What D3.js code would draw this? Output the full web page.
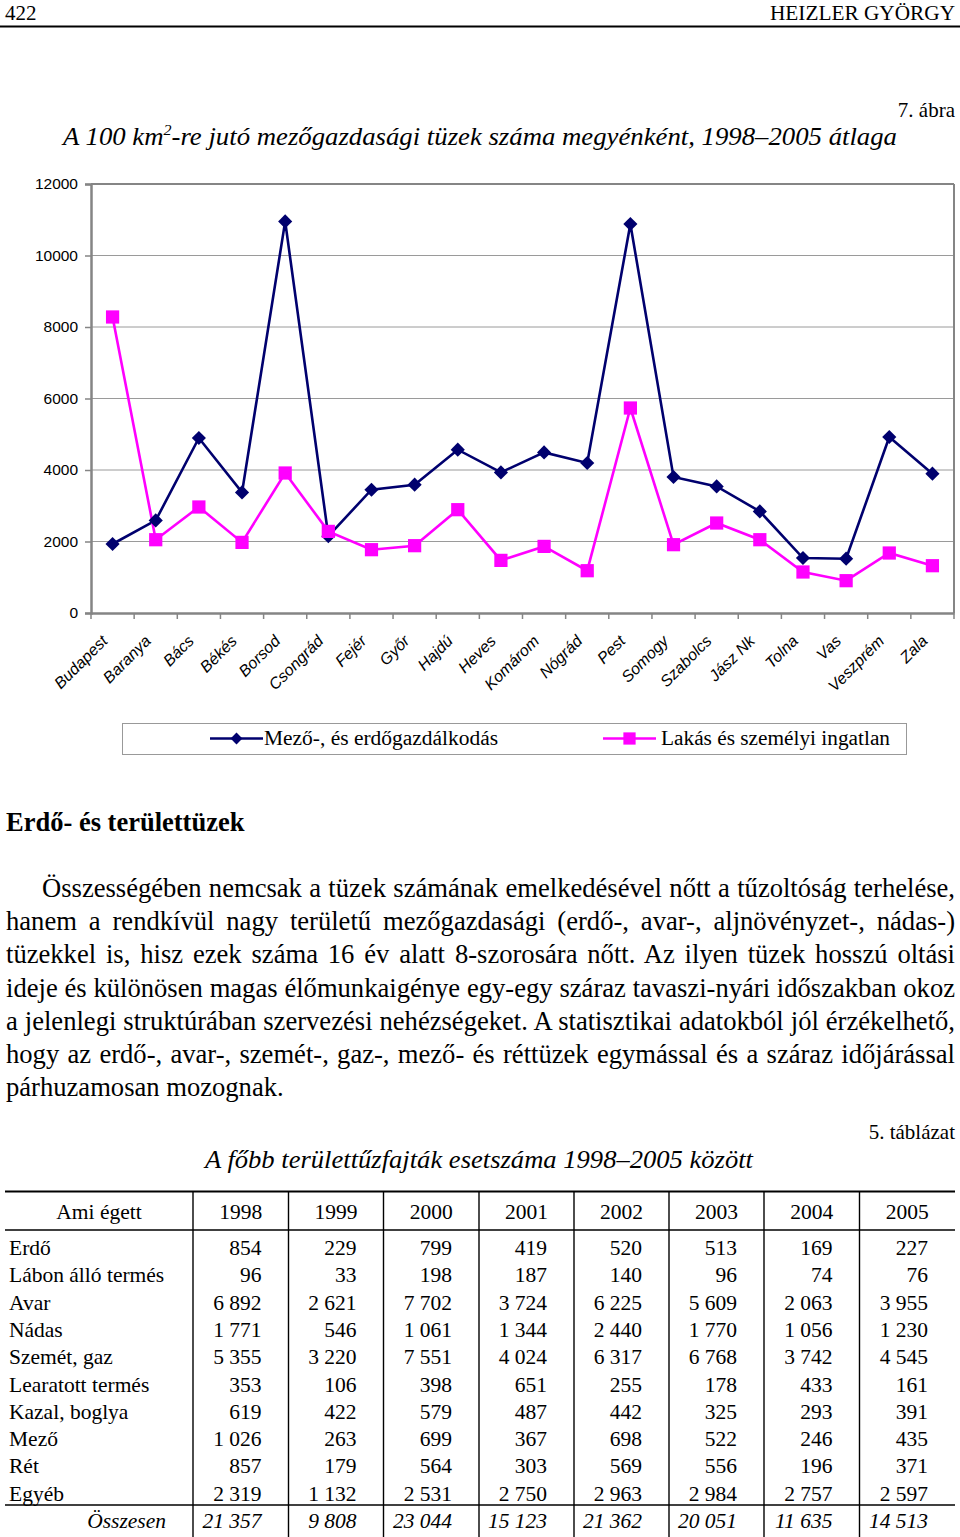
<!DOCTYPE html>
<html><head><meta charset="utf-8">
<script src="https://cdn.jsdelivr.net/npm/d3@7"></script>
<style>body{margin:0;background:#fff} svg{display:block}</style>
</head><body>
<svg id="page" width="960" height="1537"></svg>
<script>
// ---------- chart data ----------
const categories = ["Budapest","Baranya","Bács","Békés","Borsod","Csongrád","Fejér","Győr","Hajdú","Heves","Komárom","Nógrád","Pest","Somogy","Szabolcs","Jász Nk","Tolna","Vas","Veszprém","Zala"];
const agriForest = [1930,2590,4895,3373,10954,2150,3449,3589,4568,3933,4492,4196,10881,3804,3541,2842,1538,1519,4923,3897];
const housing = [8280,2050,2965,1975,3916,2283,1771,1883,2890,1472,1863,1183,5734,1911,2517,2050,1147,904,1678,1323];
const yTicks = [0,2000,4000,6000,8000,10000,12000];
const seriesNames = ["Mező-, és erdőgazdálkodás","Lakás és személyi ingatlan"];

// ---------- table data ----------
const tableHeadLabel = "Ami égett";
const tableYears = ["1998","1999","2000","2001","2002","2003","2004","2005"];
const tableRowLabels = ["Erdő","Lábon álló termés","Avar","Nádas","Szemét, gaz","Learatott termés","Kazal, boglya","Mező","Rét","Egyéb"];
const tableValues = [
  [854,229,799,419,520,513,169,227],
  [96,33,198,187,140,96,74,76],
  [6892,2621,7702,3724,6225,5609,2063,3955],
  [1771,546,1061,1344,2440,1770,1056,1230],
  [5355,3220,7551,4024,6317,6768,3742,4545],
  [353,106,398,651,255,178,433,161],
  [619,422,579,487,442,325,293,391],
  [1026,263,699,367,698,522,246,435],
  [857,179,564,303,569,556,196,371],
  [2319,1132,2531,2750,2963,2984,2757,2597]
];
const tableTotalLabel = "Összesen";
const tableTotals = [21357,9808,23044,15123,21362,20051,11635,14513];

// ---------- texts ----------
const paraLines = [
  "Összességében nemcsak a tüzek számának emelkedésével nőtt a tűzoltóság terhelése,",
  "hanem a rendkívül nagy területű mezőgazdasági (erdő-, avar-, aljnövényzet-, nádas-)",
  "tüzekkel is, hisz ezek száma 16 év alatt 8-szorosára nőtt. Az ilyen tüzek hosszú oltási",
  "ideje és különösen magas élőmunkaigénye egy-egy száraz tavaszi-nyári időszakban okoz",
  "a jelenlegi struktúrában szervezési nehézségeket. A statisztikai adatokból jól érzékelhető,",
  "hogy az erdő-, avar-, szemét-, gaz-, mező- és réttüzek egymással és a száraz időjárással",
  "párhuzamosan mozognak."
];

const SERIF = "'Liberation Serif','Times New Roman',serif";
const SANS = "'Liberation Sans',Arial,sans-serif";
const svg = d3.select("#page");

// ---------- page header ----------
svg.append("text").attr("x",5).attr("y",20).attr("font-family",SERIF).attr("font-size",21).text("422");
svg.append("text").attr("x",955).attr("y",20).attr("text-anchor","end").attr("font-family",SERIF).attr("font-size",21)
  .attr("textLength",185).attr("lengthAdjust","spacingAndGlyphs").text("HEIZLER GYÖRGY");
svg.append("line").attr("x1",0).attr("x2",960).attr("y1",26.5).attr("y2",26.5).attr("stroke","#000").attr("stroke-width",2);

svg.append("text").attr("x",955).attr("y",117).attr("text-anchor","end").attr("font-family",SERIF).attr("font-size",21).text("7. ábra");
const title = svg.append("text").attr("x",63).attr("y",145).attr("font-family",SERIF).attr("font-style","italic").attr("font-size",25)
  .attr("textLength",834).attr("lengthAdjust","spacingAndGlyphs");
title.append("tspan").text("A 100 km");
title.append("tspan").attr("font-size",15).attr("dy",-10).text("2");
title.append("tspan").attr("dy",10).text("-re jutó mezőgazdasági tüzek száma megyénként, 1998–2005 átlaga");

// ---------- chart ----------
const x = d3.scaleBand().domain(categories).range([91,954]);
const y = d3.scaleLinear().domain([0,12000]).range([613,184]);
const cx = c => x(c) + x.bandwidth()/2;
const AX = "#858585";

// gridlines
svg.append("g").selectAll("line").data(yTicks.filter(v=>v>0 && v<12000)).join("line")
  .attr("x1",91).attr("x2",954).attr("y1",d=>y(d)).attr("y2",d=>y(d))
  .attr("stroke","#9a9a9a").attr("stroke-width",1);
// frame top/right
svg.append("line").attr("x1",91).attr("x2",954).attr("y1",y(12000)).attr("y2",y(12000)).attr("stroke",AX).attr("stroke-width",2);
svg.append("line").attr("x1",954).attr("x2",954).attr("y1",y(12000)).attr("y2",y(0)).attr("stroke",AX).attr("stroke-width",2);

// y axis
const yAxis = svg.append("g").attr("transform","translate(91,0)")
  .call(d3.axisLeft(y).tickValues(yTicks).tickSize(6).tickPadding(7).tickFormat(d3.format("d")));
yAxis.select(".domain").attr("stroke",AX).attr("stroke-width",2.5);
yAxis.selectAll(".tick line").attr("stroke",AX).attr("stroke-width",1.5);
yAxis.selectAll(".tick text").attr("font-family",SANS).attr("font-size",15.5).attr("fill","#000");

// x axis
const xAxis = svg.append("g").attr("transform","translate(0,613)")
  .call(d3.axisBottom(x).tickSize(0).tickFormat(""));
xAxis.select(".domain").attr("stroke",AX).attr("stroke-width",2.5);
const bounds = categories.map(c=>x(c)).concat([x.range()[1]]);
xAxis.append("g").selectAll("line").data(bounds).join("line")
  .attr("x1",d=>d).attr("x2",d=>d).attr("y1",0).attr("y2",6).attr("stroke",AX).attr("stroke-width",1.5);
svg.append("g").selectAll("text").data(categories).join("text")
  .attr("transform",d=>`translate(${cx(d)-4},642) rotate(-45)`)
  .attr("text-anchor","end").attr("font-family",SANS).attr("font-style","italic").attr("font-size",16).attr("fill","#000")
  .text(d=>d);

// lines
const NAVY = "#00006e", MAG = "#ff00ff";
const lineGen = d3.line().x((d,i)=>cx(categories[i])).y(d=>y(d));
svg.append("path").attr("d",lineGen(agriForest)).attr("fill","none").attr("stroke",NAVY).attr("stroke-width",2.6).attr("stroke-linejoin","miter");
svg.append("path").attr("d",lineGen(housing)).attr("fill","none").attr("stroke",MAG).attr("stroke-width",2.6);
const diamond = d3.symbol().type(d3.symbolSquare).size(100);
const square = d3.symbol().type(d3.symbolSquare).size(175);
svg.append("g").selectAll("path").data(agriForest).join("path")
  .attr("d",diamond).attr("transform",(d,i)=>`translate(${cx(categories[i])},${y(d)}) rotate(45)`).attr("fill",NAVY);
svg.append("g").selectAll("path").data(housing).join("path")
  .attr("d",square).attr("transform",(d,i)=>`translate(${cx(categories[i])},${y(d)})`).attr("fill",MAG);

// legend
svg.append("rect").attr("x",122.5).attr("y",723.5).attr("width",784).attr("height",31).attr("fill","none").attr("stroke","#999").attr("stroke-width",1);
const legendItems = [{x0:210,color:NAVY,sym:"d",tx:264,w:234},{x0:603,color:MAG,sym:"s",tx:661,w:229}];
legendItems.forEach((it,i)=>{
  svg.append("line").attr("x1",it.x0).attr("x2",it.x0+53).attr("y1",738.5).attr("y2",738.5).attr("stroke",it.color).attr("stroke-width",2.6);
  svg.append("path").attr("d", it.sym==="d" ? d3.symbol().type(d3.symbolSquare).size(70)() : d3.symbol().type(d3.symbolSquare).size(150)())
    .attr("transform",`translate(${it.x0+26.5},738.5)${it.sym==="d"?" rotate(45)":""}`).attr("fill",it.color);
  svg.append("text").attr("x",it.tx).attr("y",745).attr("font-family",SERIF).attr("font-size",20)
    .attr("textLength",it.w).attr("lengthAdjust","spacingAndGlyphs").text(seriesNames[i]);
});

// ---------- heading & paragraph ----------
svg.append("text").attr("x",6).attr("y",831).attr("font-family",SERIF).attr("font-weight","bold").attr("font-size",26.5).text("Erdő- és területtüzek");
paraLines.forEach((ln,i)=>{
  const x0 = i===0 ? 42 : 6;
  const t = svg.append("text").attr("x",x0).attr("y",897+i*33.2).attr("font-family",SERIF).attr("font-size",26.6).text(ln);
  if (i < paraLines.length-1) {
    const w = t.node().getComputedTextLength();
    const n = (ln.match(/ /g)||[]).length;
    t.style("word-spacing", ((955-x0-w)/n)+"px");
  }
});

// ---------- table ----------
svg.append("text").attr("x",955).attr("y",1139).attr("text-anchor","end").attr("font-family",SERIF).attr("font-size",21).text("5. táblázat");
svg.append("text").attr("x",205).attr("y",1168).attr("font-family",SERIF).attr("font-style","italic").attr("font-size",25)
  .attr("textLength",548).attr("lengthAdjust","spacingAndGlyphs").text("A főbb területtűzfajták esetszáma 1998–2005 között");

const colEdges = [5,193,288.5,383.5,479,574,669,764,859.5,955];
const fmt = d3.formatLocale({thousands:"\u2009", grouping:[3], decimal:","}).format(",d");
const fmt2 = v => fmt(v).replace(/\u2009/g," ");
const rowY = i => 1255 + i*27.3;

svg.append("line").attr("x1",5).attr("x2",955).attr("y1",1191.5).attr("y2",1191.5).attr("stroke","#000").attr("stroke-width",2);
svg.append("line").attr("x1",5).attr("x2",955).attr("y1",1230).attr("y2",1230).attr("stroke","#000").attr("stroke-width",1.6);
svg.append("line").attr("x1",5).attr("x2",955).attr("y1",1505).attr("y2",1505).attr("stroke","#000").attr("stroke-width",1.6);
svg.append("g").selectAll("line").data(colEdges.slice(1,-1)).join("line")
  .attr("x1",d=>d).attr("x2",d=>d).attr("y1",1191).attr("y2",1537).attr("stroke","#000").attr("stroke-width",1.4);

const T = svg.append("g").attr("font-family",SERIF).attr("font-size",21.5).attr("fill","#000");
T.append("text").attr("x",(colEdges[0]+colEdges[1])/2).attr("y",1219).attr("text-anchor","middle").text(tableHeadLabel);
tableYears.forEach((yr,j)=>{
  T.append("text").attr("x",(colEdges[j+1]+colEdges[j+2])/2).attr("y",1219).attr("text-anchor","middle").text(yr);
});
tableRowLabels.forEach((lab,i)=>{
  T.append("text").attr("x",9).attr("y",rowY(i)).text(lab);
  tableValues[i].forEach((v,j)=>{
    T.append("text").attr("x",colEdges[j+2]-27).attr("y",rowY(i)).attr("text-anchor","end").text(fmt2(v));
  });
});
T.append("text").attr("x",166).attr("y",1528).attr("text-anchor","end").attr("font-style","italic").text(tableTotalLabel);
tableTotals.forEach((v,j)=>{
  T.append("text").attr("x",colEdges[j+2]-27).attr("y",1528).attr("text-anchor","end").attr("font-style","italic").text(fmt2(v));
});
</script>
</body></html>
